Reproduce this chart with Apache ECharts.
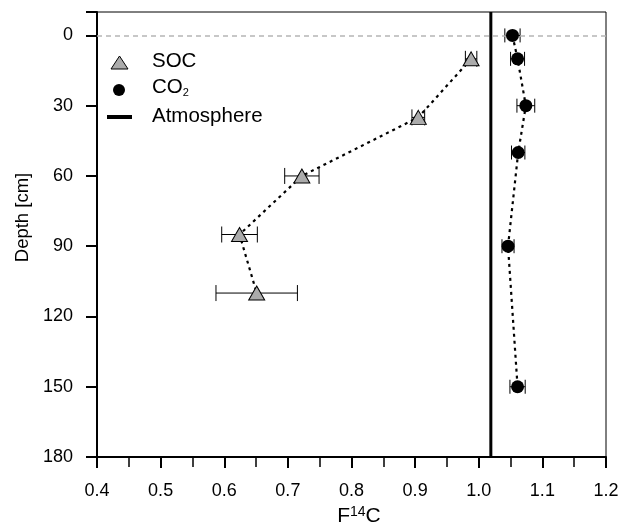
<!DOCTYPE html>
<html>
<head>
<meta charset="utf-8">
<script src="https://cdn.jsdelivr.net/npm/echarts@6/dist/echarts.min.js"></script>
<style>html,body{margin:0;padding:0;background:#fff}#c{width:620px;height:523px}</style>
</head>
<body>
<div id="c"></div>
<script>
// ---- data ----
const socDepth = [10, 35, 60, 85, 110];
const socF     = [0.988, 0.905, 0.722, 0.624, 0.651];
const socErr   = [0.009, 0.010, 0.027, 0.028, 0.064];

const co2Depth = [0, 10, 30, 50, 90, 150];
const co2F     = [1.053, 1.061, 1.074, 1.062, 1.046, 1.061];
const co2Err   = [0.012, 0.011, 0.014, 0.0105, 0.0095, 0.012];

const atmF = 1.019;
const depthTicks = [0, 30, 60, 90, 120, 150, 180];
const depthRange = [-10, 180];
const fRange = [0.4, 1.2];

const FONT = 'Liberation Sans, Arial, sans-serif';

const socPts = socF.map((v, i) => [v, socDepth[i]]);
const co2Pts = co2F.map((v, i) => [v, co2Depth[i]]);
const socErrPts = socF.map((v, i) => [v, socDepth[i], socErr[i]]);
const co2ErrPts = co2F.map((v, i) => [v, co2Depth[i], co2Err[i]]);

function errRender(capH) {
  return function (params, api) {
    const x = api.value(0), y = api.value(1), e = api.value(2);
    const l = api.coord([x - e, y]), r = api.coord([x + e, y]);
    const h = capH / 2;
    const st = { stroke: '#000', lineWidth: 1 };
    return {
      type: 'group',
      children: [
        { type: 'line', shape: { x1: l[0], y1: l[1], x2: r[0], y2: r[1] }, style: st },
        { type: 'line', shape: { x1: l[0], y1: l[1] - h, x2: l[0], y2: l[1] + h }, style: st },
        { type: 'line', shape: { x1: r[0], y1: r[1] - h, x2: r[0], y2: r[1] + h }, style: st }
      ]
    };
  };
}

const chart = echarts.init(document.getElementById('c'));
chart.setOption({
  animation: false,
  backgroundColor: '#fff',
  textStyle: { fontFamily: FONT, color: '#000' },
  grid: { left: 97, right: 14, top: 12, bottom: 66, containLabel: false, outerBoundsMode: 'none',
    show: true, borderColor: '#000', borderWidth: 1, backgroundColor: 'transparent' },
  xAxis: {
    type: 'value', min: fRange[0], max: fRange[1], interval: 0.1,
    name: '{a|F}{sup|14}{a|C}', nameLocation: 'middle', nameGap: 43,
    nameTextStyle: { padding: [0, 0, 0, 15], rich: { a: { fontSize: 21, fontFamily: FONT, color: '#000' }, sup: { fontSize: 14, fontFamily: FONT, color: '#000', padding: [0, 0, 8, 0] } } },
    axisLine: { onZero: false, lineStyle: { color: '#000', width: 2 } },
    axisTick: { show: true, length: 11, lineStyle: { color: '#000', width: 2 } },
    minorTick: { show: true, splitNumber: 2, length: 10, lineStyle: { color: '#000', width: 1.5 } },
    splitLine: { show: false },
    axisLabel: { fontSize: 18, color: '#000', margin: 25, fontFamily: FONT, formatter: v => v.toFixed(1) }
  },
  yAxis: {
    type: 'value', inverse: true, min: depthRange[0], max: depthRange[1],
    name: 'Depth [cm]', nameLocation: 'middle', nameGap: 63,
    nameTextStyle: { fontSize: 18.5, color: '#000', fontFamily: FONT, padding: [0, 0, 0, 34] },
    axisLine: { onZero: false, lineStyle: { color: '#000', width: 2 } },
    axisTick: { show: true, length: 11, customValues: [-10].concat(depthTicks), lineStyle: { color: '#000', width: 2 } },
    splitLine: { show: false },
    axisLabel: { fontSize: 18, color: '#000', margin: 24, fontFamily: FONT, customValues: depthTicks }
  },
  series: [
    {
      name: 'Atmosphere', type: 'line', data: [[atmF, depthRange[0]], [atmF, depthRange[1]]],
      symbol: 'none', lineStyle: { color: '#000', width: 3 }, silent: true, z: 2
    },
    {
      name: 'zero', type: 'line', data: [],
      markLine: { silent: true, symbol: 'none', label: { show: false },
        lineStyle: { color: '#b5b5b5', type: [5, 4], width: 1.5 }, data: [{ yAxis: 0 }] }, z: 1
    },
    {
      name: 'SOC', type: 'line', data: socPts, symbol: 'none',
      lineStyle: { color: '#000', width: 2.2, type: [3, 4] }, z: 3
    },
    {
      name: 'CO₂', type: 'line', data: co2Pts, symbol: 'none',
      lineStyle: { color: '#000', width: 2.2, type: [3, 4] }, z: 3
    },
    { name: 'SOC err', type: 'custom', renderItem: errRender(16), data: socErrPts, z: 4, silent: true },
    { name: 'CO2 err', type: 'custom', renderItem: errRender(14), data: co2ErrPts, z: 4, silent: true },
    {
      name: 'SOC pts', type: 'scatter', data: socPts, symbol: 'triangle', symbolSize: [16, 14],
      itemStyle: { color: '#ababab', borderColor: '#000', borderWidth: 1, opacity: 1 }, z: 5
    },
    {
      name: 'CO2 pts', type: 'scatter', data: co2Pts, symbol: 'circle', symbolSize: 13,
      itemStyle: { color: '#000', opacity: 1 }, z: 5
    }
  ],
  graphic: [
    { type: 'polygon', shape: { points: [[111, 69], [119.5, 56], [128, 69]] }, style: { fill: '#ababab', stroke: '#000', lineWidth: 1 }, z: 10 },
    { type: 'circle', shape: { cx: 119, cy: 90, r: 6 }, style: { fill: '#000' }, z: 10 },
    { type: 'rect', shape: { x: 107, y: 115, width: 25, height: 4 }, style: { fill: '#000' }, z: 10 },
    { type: 'text', left: 152, top: 51, style: { text: 'SOC', fontSize: 20.5, fontFamily: FONT, fill: '#000' }, z: 10 },
    { type: 'text', left: 152, top: 77, style: { text: 'CO{s|2}', fontSize: 20.5, fontFamily: FONT, fill: '#000',
        rich: { s: { fontSize: 11, fontFamily: FONT, padding: [10, 0, 0, 0] } } }, z: 10 },
    { type: 'text', left: 152, top: 106, style: { text: 'Atmosphere', fontSize: 20.5, fontFamily: FONT, fill: '#000' }, z: 10 }
  ]
});
</script>
</body>
</html>
